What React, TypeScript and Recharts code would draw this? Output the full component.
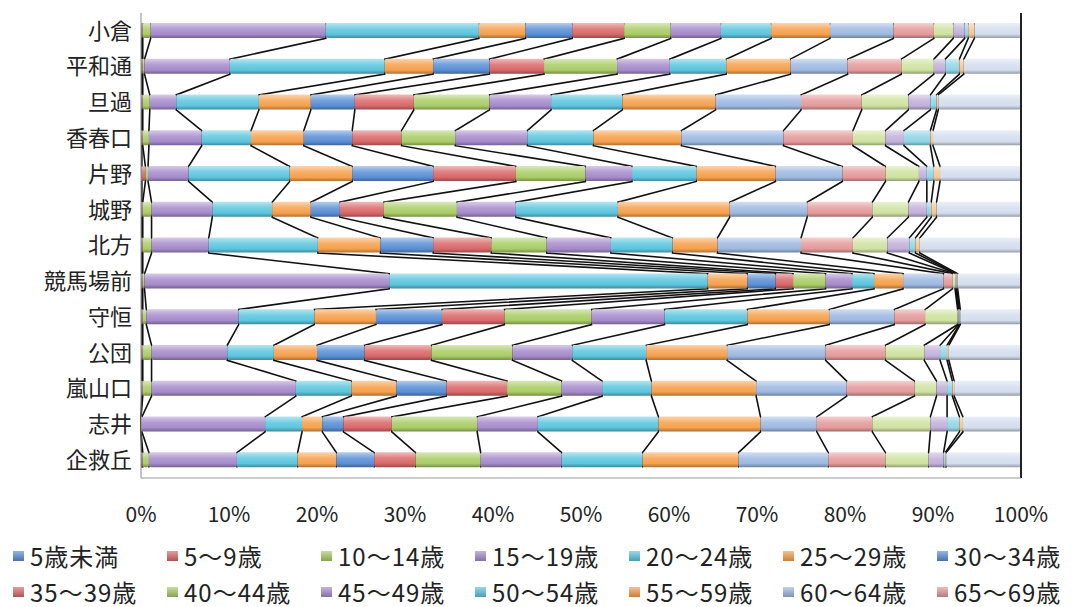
import {
  ComposedChart,
  LineChart,
  Bar,
  Line,
  XAxis,
  YAxis,
  CartesianGrid,
  Legend,
  ReferenceLine,
} from "recharts";

const FONT = '"Noto Sans CJK JP", "Noto Sans", sans-serif';

const categories = ["小倉", "平和通", "旦過", "香春口", "片野", "城野", "北方", "競馬場前", "守恒", "公団", "嵐山口", "志井", "企救丘"];

// share (%) of each age group per stop, top to bottom
const age00_04 = [0.1, 0.1, 0.1, 0.1, 0.1, 0.1, 0.1, 0.1, 0.1, 0.1, 0.1, 0, 0.1];
const age05_09 = [0.1, 0.1, 0.1, 0.1, 0.4, 0.1, 0.1, 0.1, 0.1, 0.1, 0.1, 0, 0.1];
const age10_14 = [0.9, 0.2, 0.8, 0.7, 0.3, 1.0, 1.0, 0.2, 0.4, 1.0, 1.0, 0.1, 0.7];
const age15_19 = [19.9, 9.7, 3.0, 6.0, 4.6, 6.9, 6.5, 27.8, 10.5, 8.6, 16.4, 14.0, 10.0];
const age20_24 = [17.4, 17.6, 9.4, 5.6, 11.5, 6.8, 12.4, 36.2, 8.6, 5.3, 6.3, 4.2, 6.9];
const age25_29 = [5.3, 5.5, 5.9, 6.0, 7.1, 4.4, 7.1, 4.5, 7.0, 4.9, 5.1, 2.3, 4.4];
const age30_34 = [5.3, 6.4, 5.0, 5.5, 9.2, 3.3, 6.0, 3.2, 7.5, 5.4, 5.7, 2.4, 4.3];
const age35_39 = [5.9, 6.2, 6.7, 5.6, 9.4, 5.0, 6.6, 2.0, 7.1, 7.6, 6.9, 5.5, 4.7];
const age40_44 = [5.3, 8.3, 8.6, 6.1, 7.9, 8.3, 6.3, 3.7, 9.9, 9.2, 6.2, 9.7, 7.4];
const age45_49 = [5.7, 6.0, 7.0, 8.2, 5.3, 6.7, 7.3, 3.0, 8.3, 6.8, 4.6, 6.9, 9.2];
const age50_54 = [5.7, 6.4, 8.1, 7.5, 7.3, 11.6, 7.0, 2.5, 9.4, 8.4, 5.6, 13.7, 9.2];
const age55_59 = [6.7, 7.3, 10.6, 10.0, 9.0, 12.7, 5.1, 3.3, 9.3, 9.2, 11.9, 11.6, 10.9];
const age60_64 = [7.2, 6.5, 9.7, 11.6, 7.6, 8.8, 9.5, 4.6, 7.4, 11.2, 10.3, 6.4, 10.2];
const age65_69 = [4.6, 6.1, 6.9, 7.9, 4.9, 7.4, 5.9, 1.0, 3.5, 6.8, 7.7, 6.3, 6.5];
const age70_74 = [2.2, 3.7, 5.3, 3.7, 3.8, 4.1, 3.9, 0.3, 3.7, 4.4, 2.5, 6.6, 4.9];
const age75_79 = [1.3, 1.3, 2.5, 2.1, 0.9, 2.1, 2.5, 0.1, 0.1, 1.8, 1.2, 1.9, 1.7];
const age80_84 = [0.4, 1.6, 0.7, 3.0, 0.8, 0.5, 0.7, 0.1, 0.1, 0.8, 0.6, 1.4, 0.2];
const age85_89 = [0.7, 0.5, 0.2, 0.3, 0.7, 0.6, 0.5, 0.1, 0.1, 0.2, 0.2, 0.4, 0.1];
const age90plus = [5.3, 6.5, 9.4, 10.0, 9.2, 9.6, 11.5, 7.2, 6.9, 8.2, 7.6, 6.6, 8.5];

const seriesNames = [
  "5歳未満", "5～9歳", "10～14歳", "15～19歳", "20～24歳", "25～29歳", "30～34歳",
  "35～39歳", "40～44歳", "45～49歳", "50～54歳", "55～59歳", "60～64歳", "65～69歳",
  "70～74歳", "75～79歳", "80～84歳", "85～89歳", "90歳以上",
];

const xTicks = [0, 10, 20, 30, 40, 50, 60, 70, 80, 90, 100];

const seriesColors = [
  "#5A8FD5", "#D9686A", "#A9CC66", "#A58BCB", "#5CC5DE", "#F6A04C",
  "#5A8FD5", "#D9686A", "#A9CC66", "#A58BCB", "#5CC5DE", "#F6A04C",
  "#9DB8E0", "#E49A9A", "#CFE2A0", "#C2B0DA", "#90D5E6", "#F9C58E", "#D3DDED",
];

const seriesValues = [
  age00_04, age05_09, age10_14, age15_19, age20_24, age25_29, age30_34,
  age35_39, age40_44, age45_49, age50_54, age55_59, age60_64, age65_69,
  age70_74, age75_79, age80_84, age85_89, age90plus,
];

const W = 1073;
const H = 607;
const MARGIN = { top: 13, right: 52, bottom: 0, left: 0 };
const Y_AXIS_W = 141;
const X_AXIS_H = 40;
const LEGEND_H = 89;
const BAR_SIZE = 15;

const rows = categories.map((name, i) => {
  const row: Record<string, string | number> = { name };
  seriesValues.forEach((vals, k) => {
    row[`a${k}`] = vals[i];
  });
  return row;
});

// series lines (Excel style): running totals placed on the top and bottom edge of every bar
const plotH = H - MARGIN.top - X_AXIS_H - LEGEND_H;
const halfBar = BAR_SIZE / 2 / (plotH / categories.length);
const lineRows = categories.flatMap((_, i) =>
  [i + 0.5 - halfBar, i + 0.5 + halfBar].map((pos) => {
    const row: Record<string, number> = { pos };
    let sum = 0;
    seriesValues.forEach((vals, k) => {
      sum += vals[i];
      row[`c${k}`] = Math.round(sum * 10) / 10;
    });
    return row;
  })
);

const gridValues = Array.from({ length: 51 }, (_, i) => i * 2);

function mix(hex: string, target: number, t: number) {
  const n = parseInt(hex.slice(1), 16);
  const ch = [(n >> 16) & 255, (n >> 8) & 255, n & 255].map((c) =>
    Math.round(c + (target - c) * t)
  );
  return "#" + ch.map((c) => c.toString(16).padStart(2, "0")).join("");
}

function LegendItem({ k }: { k: number }) {
  return (
    <div style={{ width: 154, height: 36, display: "flex", alignItems: "center", whiteSpace: "nowrap", flexShrink: 0 }}>
      <span
        style={{
          display: "inline-block",
          width: 11,
          height: 10,
          marginRight: 6,
          background: `linear-gradient(${mix(seriesColors[k], 255, 0.35)}, ${mix(seriesColors[k], 0, 0.2)})`,
        }}
      />
      {seriesNames[k]}
    </div>
  );
}

function AgeLegend() {
  const first = [0, 1, 2, 3, 4, 5, 6];
  const second = [7, 8, 9, 10, 11, 12, 13];
  return (
    <div
      style={{
        paddingLeft: 13,
        paddingTop: 20,
        fontFamily: FONT,
        fontSize: 24,
        letterSpacing: 1,
        color: "#222",
        lineHeight: "36px",
      }}
    >
      {[first, second].map((r, j) => (
        <div key={j} style={{ display: "flex", flexWrap: "nowrap" }}>
          {r.map((k) => (
            <LegendItem key={k} k={k} />
          ))}
        </div>
      ))}
    </div>
  );
}

export default function App() {
  const linesMargin = { ...MARGIN, bottom: LEGEND_H };
  return (
    <div style={{ position: "relative", width: W, height: H }}>
      <style>{"body{margin:0}"}</style>
      {/* bottom layer: grid and series lines */}
      <div style={{ position: "absolute", left: 0, top: 0 }}>
        <LineChart width={W} height={H} layout="vertical" data={lineRows} margin={linesMargin}>
          <CartesianGrid stroke="#c4c4c4" horizontal={false} verticalValues={gridValues} />
          <XAxis type="number" domain={[0, 100]} ticks={xTicks} height={X_AXIS_H} tick={false} tickLine={false} axisLine={false} />
          <YAxis
            type="number"
            dataKey="pos"
            domain={[0, categories.length]}
            width={Y_AXIS_W}
            tick={false}
            tickLine={false}
            axisLine={false}
          />
          {seriesValues.slice(0, 18).map((_, k) => (
            <Line
              key={`c${k}`}
              dataKey={`c${k}`}
              stroke="#111"
              strokeWidth={1.6}
              dot={false}
              isAnimationActive={false}
            />
          ))}
        </LineChart>
      </div>
      {/* top layer: bars, axes, legend */}
      <div style={{ position: "absolute", left: 0, top: 0 }}>
        <ComposedChart
          width={W}
          height={H}
          layout="vertical"
          data={rows}
          margin={MARGIN}
          barCategoryGap={0}
        >
          <defs>
            {seriesColors.map((c, k) => (
              <linearGradient key={k} id={`g${k}`} x1="0" y1="0" x2="0" y2="1">
                <stop offset="0%" stopColor={mix(c, 255, 0.55)} />
                <stop offset="40%" stopColor={mix(c, 255, 0.15)} />
                <stop offset="75%" stopColor={c} />
                <stop offset="100%" stopColor={mix(c, 0, 0.3)} />
              </linearGradient>
            ))}
          </defs>
          <XAxis
            type="number"
            domain={[0, 100]}
            ticks={xTicks}
            tickFormatter={(v) => `${v}%`}
            height={X_AXIS_H}
            tickLine={false}
            tickMargin={23}
            axisLine={{ stroke: "#999" }}
            tick={{ fontSize: 21, fill: "#222", fontFamily: FONT }}
          />
          <YAxis
            type="category"
            dataKey="name"
            width={Y_AXIS_W}
            tickLine={false}
            tickMargin={3}
            axisLine={{ stroke: "#888" }}
            tick={{ fontSize: 22, fill: "#222", fontFamily: FONT }}
          />
          <Legend verticalAlign="bottom" content={<AgeLegend />} wrapperStyle={{ left: 0, width: W, height: LEGEND_H }} />
          {seriesNames.map((n, k) => (
            <Bar
              key={n}
              dataKey={`a${k}`}
              name={n}
              stackId="age"
              fill={`url(#g${k})`}
              barSize={BAR_SIZE}
              radius={2}
              legendType={k < 14 ? "square" : "none"}
              isAnimationActive={false}
            />
          ))}
          <ReferenceLine x={100} stroke="#222" strokeWidth={2} />
        </ComposedChart>
      </div>
    </div>
  );
}
